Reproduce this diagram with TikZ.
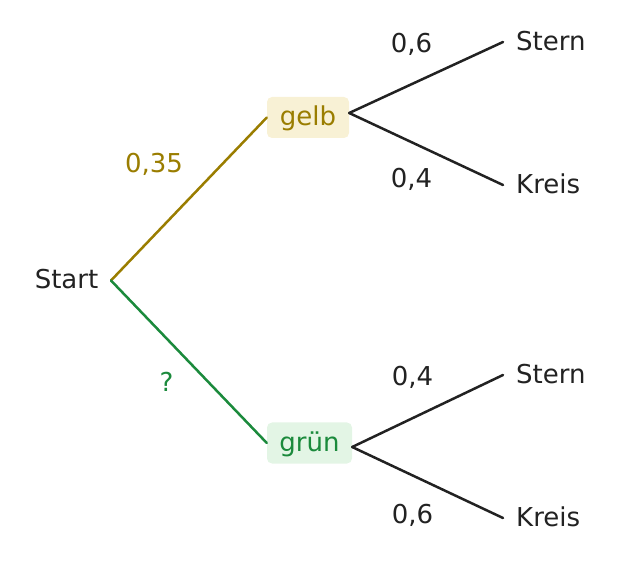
\documentclass[tikz,border=0pt]{standalone}
\usepackage{fontspec}
\setmainfont{DejaVu Sans}
\usetikzlibrary{calc}
\definecolor{ink}{HTML}{222222}
\definecolor{gelbc}{HTML}{9A7D00}
\definecolor{gelbf}{HTML}{F8F1D5}
\definecolor{gruenc}{HTML}{1B8A3C}
\definecolor{gruenf}{HTML}{E3F5E5}
\tikzset{
  txt/.style={font=\fontsize{26}{30}\selectfont, text height=19.5pt, text depth=2.5pt, inner sep=0pt},
  leaf/.style={txt, text=ink, anchor=west, inner xsep=13pt},
  prob/.style={txt, text=ink},
  branch/.style={line width=2.5pt, line cap=round},
  colbox/.style={txt, rounded corners=5pt, minimum width=82pt, minimum height=41pt},
}
\begin{document}
\begin{tikzpicture}[x=1pt,y=-1pt]
\useasboundingbox (0,0) rectangle (619,561);
\node[txt, text=ink, anchor=east, inner xsep=12.5pt] (start) at (111,280.5) {Start};
\node[colbox, fill=gelbf, text=gelbc] (gelb) at (308,117.5) {gelb};
\node[colbox, fill=gruenf, text=gruenc, minimum width=85pt] (gruen) at (309.5,443) {grün};
\coordinate (gelbout) at ($(gelb.east)+(0,-4.5)$);
\coordinate (gruenout) at ($(gruen.east)+(0,4)$);
\node[leaf] (s1) at (503,42) {Stern};
\node[leaf] (k1) at (503,185) {Kreis};
\node[leaf] (s2) at (503,375) {Stern};
\node[leaf] (k2) at (503,518) {Kreis};
\draw[branch, gelbc] (start.east) -- (gelb.west);
\draw[branch, gruenc] (start.east) -- (gruen.west);
\draw[branch, ink] (gelbout) -- (s1.west);
\draw[branch, ink] (gelbout) -- (k1.west);
\draw[branch, ink] (gruenout) -- (s2.west);
\draw[branch, ink] (gruenout) -- (k2.west);
\node[prob] (p1) at (411.5,44.5) {0,6};
\node[prob] (p2) at (411.5,179.5) {0,4};
\node[prob] (p3) at (412.5,377.5) {0,4};
\node[prob] (p4) at (412.5,514.5) {0,6};
\node[txt, text=gelbc] (pg) at (154,164.5) {0,35};
\node[txt, text=gruenc] (pq) at (166.5,383.5) {?};
\end{tikzpicture}
\end{document}
